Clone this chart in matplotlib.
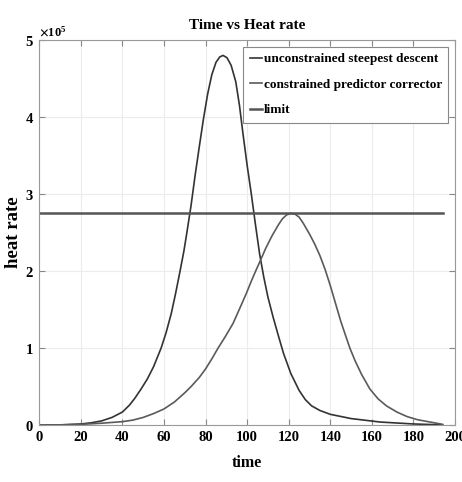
import matplotlib
matplotlib.use("Agg")
import matplotlib.pyplot as plt
from matplotlib.ticker import ScalarFormatter

plt.rcParams['font.family'] = ['Liberation Serif', 'DejaVu Serif']
plt.rcParams['font.weight'] = 'bold'
plt.rcParams['mathtext.fontset'] = 'stix'

# values (time, heat rate in units of 1e5)
t_unc = [0, 10, 20, 25, 30, 35, 40, 43.4, 46, 49, 52, 55, 58.6, 61, 63.5, 65.5, 67.5,
         69.5, 71, 73, 75, 77, 79, 81, 83, 85, 86.8, 88.4, 90.3, 92.3, 94.5, 96.3,
         98, 100, 102, 104, 106, 108, 110, 112.5, 114.8, 117.5, 121, 125, 128,
         131, 135, 140, 150, 164, 180, 194]
q_unc = [0.0, 0.003, 0.015, 0.03, 0.055, 0.1, 0.17, 0.26, 0.35, 0.47, 0.6, 0.76, 1.0,
         1.2, 1.45, 1.7, 1.97, 2.25, 2.5, 2.85, 3.25, 3.62, 3.98, 4.3, 4.55, 4.71,
         4.78, 4.8, 4.77, 4.67, 4.46, 4.15, 3.78, 3.37, 3.0, 2.6, 2.22, 1.92, 1.66,
         1.4, 1.18, 0.93, 0.67, 0.45, 0.33, 0.25, 0.19, 0.14, 0.085, 0.04, 0.015, 0.003]

t_con = [0, 10, 20, 30, 40, 45, 50, 55, 60, 65, 70, 73, 77, 80, 83, 86, 89.5, 93.2,
         96.5, 99.6, 102, 104.4, 106.4, 109, 112, 115, 117, 119, 121, 123, 125, 127,
         130, 132.5, 135, 137.5, 140, 142.5, 145, 147.5, 149.4, 152, 155, 159, 163,
         167, 172, 177, 182, 188, 194]
q_con = [0.0, 0.003, 0.01, 0.025, 0.045, 0.065, 0.1, 0.15, 0.21, 0.3, 0.42, 0.5,
         0.62, 0.73, 0.86, 1.0, 1.15, 1.32, 1.52, 1.71, 1.87, 2.02, 2.14, 2.3, 2.46,
         2.6, 2.68, 2.73, 2.75, 2.74, 2.7, 2.62, 2.48, 2.35, 2.2, 2.02, 1.81, 1.58,
         1.35, 1.15, 1.0, 0.83, 0.66, 0.47, 0.34, 0.25, 0.17, 0.11, 0.07, 0.04, 0.01]

t_lim = [0, 194]
q_lim = [2.75, 2.75]

scale = 1e5

fig = plt.figure(figsize=(4.62, 4.82), dpi=100)
ax = fig.add_axes([0.085, 0.118, 0.900, 0.799])

ax.plot(t_unc, [q * scale for q in q_unc], color='#333333', lw=1.2,
        label='unconstrained steepest descent')
ax.plot(t_con, [q * scale for q in q_con], color='#5a5a5a', lw=1.2,
        label='constrained predictor corrector')
ax.plot(t_lim, [q * scale for q in q_lim], color='#555555', lw=1.8, label='limit')

ax.set_xlim(0, 200)
ax.set_ylim(0, 5e5)
ax.set_xticks(range(0, 201, 20))
ax.set_yticks([0, 1e5, 2e5, 3e5, 4e5, 5e5])

fmt = ScalarFormatter(useMathText=True)
fmt.set_powerlimits((0, 0))
ax.yaxis.set_major_formatter(fmt)
ax.yaxis.get_offset_text().set_fontsize(9)

ax.grid(True, color='#ececec', lw=0.8)
ax.tick_params(direction='in', top=True, right=True, labelsize=10.5, length=4,
               color='#888888', pad=4)
for s in ax.spines.values():
    s.set_color('#999999')
    s.set_linewidth(0.8)

ax.set_title('Time vs Heat rate', fontsize=11, fontweight='bold', pad=8)
ax.set_xlabel('time', fontsize=11.5, fontweight='bold', labelpad=8)
ax.set_ylabel('heat rate', fontsize=13.5, fontweight='bold', labelpad=2)

leg = ax.legend(loc='upper right', fontsize=9.5, handlelength=0.9, handletextpad=0.15,
                borderaxespad=0.5, fancybox=False, framealpha=1, edgecolor='#888888',
                labelspacing=1.0, borderpad=0.5)
leg.get_frame().set_linewidth(0.8)

fig.savefig('out.png', dpi=100)
